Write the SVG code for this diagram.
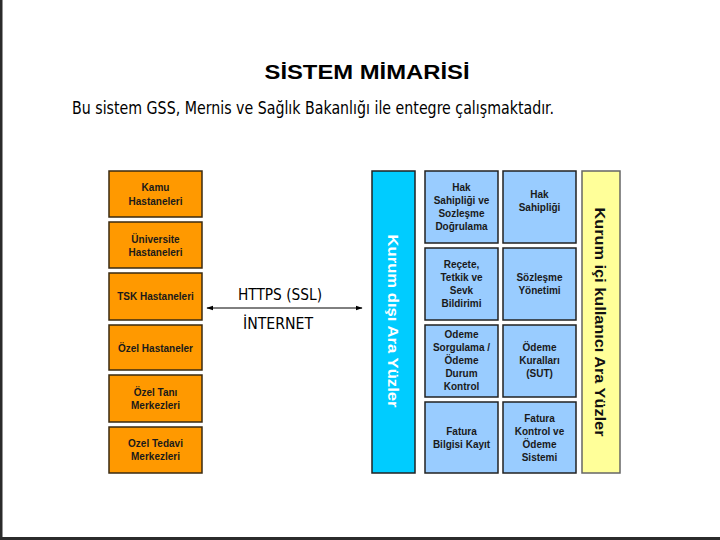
<svg xmlns="http://www.w3.org/2000/svg" width="720" height="540" viewBox="0 0 720 540">
<style>
.ob{fill:#FF9900;stroke:#3a2a10;stroke-width:1.5}
.lb{fill:#99CCFF;stroke:#222;stroke-width:1.5}
.t{font-family:"Liberation Sans",Arial,sans-serif;font-size:10px;font-weight:bold;fill:#1a1a1a;text-anchor:middle;dominant-baseline:central}
.v{font-family:"Liberation Sans",Arial,sans-serif;font-size:15px;font-weight:bold;text-anchor:middle;dominant-baseline:central}
.h{font-family:"DejaVu Sans Condensed","DejaVu Sans",sans-serif;fill:#000}
</style>
<defs>
<marker id="ah" viewBox="0 0 10 10" refX="9" refY="5" markerWidth="7" markerHeight="7" orient="auto-start-reverse" markerUnits="userSpaceOnUse">
<path d="M0,1.5 L10,5 L0,8.5 Z" fill="#000"/>
</marker>
</defs>
<rect x="0" y="0" width="720" height="540" fill="#fff"/>
<rect x="0" y="0" width="2.5" height="540" fill="#2b2b2b"/>
<rect x="0" y="537" width="720" height="3" fill="#2b2b2b"/>

<text x="367" y="72" font-family="Liberation Sans,Arial,sans-serif" font-size="20" font-weight="bold" text-anchor="middle" dominant-baseline="central" textLength="205" lengthAdjust="spacingAndGlyphs">SİSTEM MİMARİSİ</text>
<text class="h" x="72" y="108" font-size="17" dominant-baseline="central" textLength="482" lengthAdjust="spacingAndGlyphs">Bu sistem GSS, Mernis ve Sağlık Bakanlığı ile entegre çalışmaktadır.</text>

<g id="kamu"><rect class="ob" x="109" y="171" width="93" height="46"/><text class="t"><tspan x="155.5" y="187">Kamu</tspan><tspan x="155.5" y="201">Hastaneleri</tspan></text></g>
<g id="universite"><rect class="ob" x="109" y="222" width="93" height="46"/><text class="t"><tspan x="155.5" y="239">Üniversite</tspan><tspan x="155.5" y="252">Hastaneleri</tspan></text></g>
<g id="tsk"><rect class="ob" x="109" y="273" width="93" height="47"/><text class="t" x="155.5" y="296">TSK Hastaneleri</text></g>
<g id="ozel-hastaneler"><rect class="ob" x="109" y="325" width="93" height="45"/><text class="t" x="155.5" y="348">Özel Hastaneler</text></g>
<g id="ozel-tani"><rect class="ob" x="109" y="375" width="93" height="47"/><text class="t"><tspan x="155.5" y="392">Özel Tanı</tspan><tspan x="155.5" y="405">Merkezleri</tspan></text></g>
<g id="ozel-tedavi"><rect class="ob" x="109" y="427" width="93" height="46"/><text class="t"><tspan x="155.5" y="443">Ozel Tedavi</tspan><tspan x="155.5" y="456">Merkezleri</tspan></text></g>

<g id="connectors">
<line x1="207" y1="308" x2="362" y2="308" stroke="#000" stroke-width="1" marker-start="url(#ah)" marker-end="url(#ah)"/>
<text class="h" x="280" y="294" font-size="16" text-anchor="middle" dominant-baseline="central" textLength="84" lengthAdjust="spacingAndGlyphs">HTTPS (SSL)</text>
<text class="h" x="278" y="323" font-size="16" text-anchor="middle" dominant-baseline="central" textLength="70" lengthAdjust="spacingAndGlyphs">İNTERNET</text>
</g>

<g id="kurum-disi"><rect x="372" y="171" width="43" height="302" fill="#00CCFF" stroke="#222" stroke-width="1.5"/><text class="v" fill="#fff" transform="translate(393,321) rotate(90)" textLength="173" lengthAdjust="spacingAndGlyphs">Kurum dışı Ara Yüzler</text></g>

<g id="hak-sahipligi-dogrulama"><rect class="lb" x="425" y="171" width="73" height="72"/><text class="t"><tspan x="461.5" y="187">Hak</tspan><tspan x="461.5" y="200">Sahipliği ve</tspan><tspan x="461.5" y="213">Sozleşme</tspan><tspan x="461.5" y="226">Doğrulama</tspan></text></g>
<g id="recete"><rect class="lb" x="425" y="248" width="73" height="72"/><text class="t"><tspan x="461.5" y="264">Reçete,</tspan><tspan x="461.5" y="277">Tetkik ve</tspan><tspan x="461.5" y="290">Sevk</tspan><tspan x="461.5" y="303">Bildirimi</tspan></text></g>
<g id="odeme-sorgulama"><rect class="lb" x="425" y="325" width="73" height="72"/><text class="t"><tspan x="461.5" y="334">Odeme</tspan><tspan x="461.5" y="347">Sorgulama /</tspan><tspan x="461.5" y="360">Ödeme</tspan><tspan x="461.5" y="373">Durum</tspan><tspan x="461.5" y="386">Kontrol</tspan></text></g>
<g id="fatura-bilgisi"><rect class="lb" x="425" y="402" width="73" height="71"/><text class="t"><tspan x="461.5" y="431">Fatura</tspan><tspan x="461.5" y="444">Bilgisi Kayıt</tspan></text></g>

<g id="hak-sahipligi"><rect class="lb" x="503" y="171" width="73" height="72"/><text class="t"><tspan x="539.5" y="194">Hak</tspan><tspan x="539.5" y="207">Sahipliği</tspan></text></g>
<g id="sozlesme-yonetimi"><rect class="lb" x="503" y="248" width="73" height="72"/><text class="t"><tspan x="539.5" y="277">Sözleşme</tspan><tspan x="539.5" y="290">Yönetimi</tspan></text></g>
<g id="odeme-kurallari"><rect class="lb" x="503" y="325" width="73" height="72"/><text class="t"><tspan x="539.5" y="347">Ödeme</tspan><tspan x="539.5" y="360">Kuralları</tspan><tspan x="539.5" y="373">(SUT)</tspan></text></g>
<g id="fatura-kontrol"><rect class="lb" x="503" y="402" width="73" height="71"/><text class="t"><tspan x="539.5" y="418">Fatura</tspan><tspan x="539.5" y="431">Kontrol ve</tspan><tspan x="539.5" y="444">Ödeme</tspan><tspan x="539.5" y="457">Sistemi</tspan></text></g>

<g id="kurum-ici"><rect x="582" y="171" width="38" height="302" fill="#FFFF99" stroke="#666" stroke-width="1.5"/><text class="v" fill="#111" transform="translate(600,322) rotate(90)" textLength="229" lengthAdjust="spacingAndGlyphs">Kurum içi kullanıcı Ara Yüzler</text></g>
</svg>
